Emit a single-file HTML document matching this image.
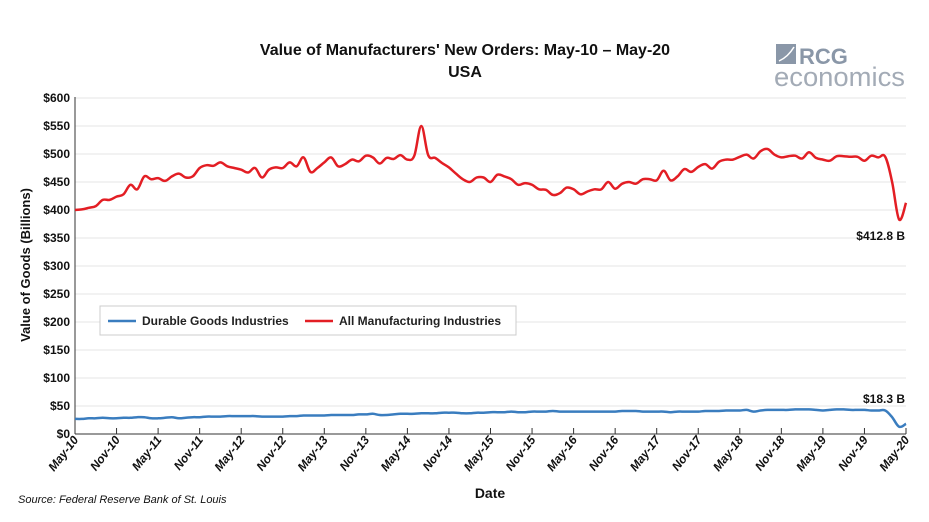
<!DOCTYPE html>
<html><head><meta charset="utf-8">
<style>
html,body{margin:0;padding:0;background:#fff;}
body{width:929px;height:517px;overflow:hidden;font-family:"Liberation Sans",sans-serif;}
svg text{font-family:"Liberation Sans",sans-serif;}
</style></head>
<body>
<svg id="chart" width="929" height="517" xmlns="http://www.w3.org/2000/svg">
<text x="465" y="55" text-anchor="middle" font-size="16" font-weight="bold" fill="#111">Value of Manufacturers' New Orders: May-10 – May-20</text>
<text x="465" y="77" text-anchor="middle" font-size="16" font-weight="bold" fill="#111">USA</text>
<g>
<rect x="776" y="44" width="20" height="20" fill="#8a97a8"/>
<path d="M779 61 Q788 57 794 47" stroke="#fff" stroke-width="1.5" fill="none"/>
<text x="799" y="64" font-size="22" font-weight="bold" fill="#8a97a8">RCG</text>
<text x="774" y="86" font-size="27" fill="#a3abb6" textLength="131" lengthAdjust="spacingAndGlyphs">economics</text>
</g>
<g id="grid"></g>
<g id="axes"></g>
<g id="series"></g>
<text transform="translate(30,265) rotate(-90)" text-anchor="middle" font-size="13" font-weight="bold" fill="#111">Value of Goods (Billions)</text>
<text x="490" y="498" text-anchor="middle" font-size="14" font-weight="bold" fill="#111">Date</text>
<text x="18" y="503" font-size="11" font-style="italic" fill="#111">Source: Federal Reserve Bank of St. Louis</text>
<g>
<rect x="100" y="306" width="416" height="29" fill="#fff" stroke="#ccc"/>
<line x1="108" y1="321" x2="136" y2="321" stroke="#3a7dbf" stroke-width="2.5"/>
<text x="142" y="325" font-size="12" font-weight="bold" fill="#222">Durable Goods Industries</text>
<line x1="305" y1="321" x2="333" y2="321" stroke="#e31e24" stroke-width="2.5"/>
<text x="339" y="325" font-size="12" font-weight="bold" fill="#222">All Manufacturing Industries</text>
</g>
<text x="905" y="240" text-anchor="end" font-size="12" font-weight="bold" fill="#111">$412.8 B</text>
<text x="905" y="403" text-anchor="end" font-size="12" font-weight="bold" fill="#111">$18.3 B</text>
</svg>
<script>
const yTicks=[0,50,100,150,200,250,300,350,400,450,500,550,600];
const xLabels=["May-10","Nov-10","May-11","Nov-11","May-12","Nov-12","May-13","Nov-13","May-14","Nov-14","May-15","Nov-15","May-16","Nov-16","May-17","Nov-17","May-18","Nov-18","May-19","Nov-19","May-20"];
const allMfg=[400,401,404,407,418,418,424,428,445,437,460,455,457,452,460,465,458,460,475,480,479,485,478,475,472,467,475,458,472,476,475,485,478,494,468,475,485,494,478,482,490,487,497,494,483,493,491,498,490,497,550,498,493,484,476,465,455,450,458,458,450,463,460,455,445,448,445,437,436,427,430,440,437,428,433,437,437,450,438,447,450,447,455,455,453,470,453,460,473,468,477,482,474,486,490,490,495,499,492,505,509,499,494,496,497,492,503,493,490,488,496,496,495,495,488,497,494,495,450,383,412.8];
const durable=[27,27,28,28,29,28,28,29,29,30,30,28,28,29,30,28,29,30,30,31,31,31,32,32,32,32,32,31,31,31,31,32,32,33,33,33,33,34,34,34,34,35,35,36,34,34,35,36,36,36,37,37,37,38,38,38,37,37,38,38,39,39,39,40,39,39,40,40,40,41,40,40,40,40,40,40,40,40,40,41,41,41,40,40,40,40,39,40,40,40,40,41,41,41,42,42,42,43,40,42,43,43,43,43,44,44,44,43,42,43,44,44,43,43,43,42,42,42,30,13,18.3];
const X0=75,X1=906,Y0=434,YMAX=600,PH=336;
const xScale=i=>X0+(X1-X0)*i/120;
const yScale=v=>Y0-v/YMAX*PH;
const NS="http://www.w3.org/2000/svg";
const mk=(t,a,p)=>{const e=document.createElementNS(NS,t);for(const k in a)e.setAttribute(k,a[k]);p.appendChild(e);return e;};
const grid=document.getElementById('grid'),axes=document.getElementById('axes'),series=document.getElementById('series');
yTicks.forEach(v=>{
  if(v>0){const l=mk('line',{x1:X0,x2:X1,y1:yScale(v),y2:yScale(v),stroke:'#e6e6e6','stroke-width':1},grid);
  
  }
  const t=mk('text',{x:X0-5,y:yScale(v)+4,'text-anchor':'end','font-size':12,'font-weight':'bold',fill:'#111'},axes);
  t.textContent='$'+v;
  
  
});
const ya=mk('line',{x1:X0,x2:X0,y1:yScale(600)-1,y2:Y0,stroke:'#333','stroke-width':1},axes);


const xa=mk('line',{x1:X0,x2:X1,y1:Y0,y2:Y0,stroke:'#333','stroke-width':1},axes);


xLabels.forEach((s,k)=>{
  const x=xScale(k*6);
  mk('line',{x1:x,x2:x,y1:Y0,y2:Y0-6,stroke:'#333'},axes);
  const t=mk('text',{transform:`translate(${x+4},${Y0+6}) rotate(-52)`,'text-anchor':'end','font-size':12,'font-weight':'bold','font-style':'italic',fill:'#111'},axes);
  t.textContent=s;
  
  
});
function line(arr,color,name){
  const pts=arr.map((v,i)=>[xScale(i),yScale(v)]);
  let d='M'+pts[0][0].toFixed(1)+' '+pts[0][1].toFixed(1);
  for(let i=0;i<pts.length-1;i++){
    const p0=pts[Math.max(0,i-1)],p1=pts[i],p2=pts[i+1],p3=pts[Math.min(pts.length-1,i+2)];
    const t=0.18;
    const c1=[p1[0]+(p2[0]-p0[0])*t,p1[1]+(p2[1]-p0[1])*t];
    const c2=[p2[0]-(p3[0]-p1[0])*t,p2[1]-(p3[1]-p1[1])*t];
    d+=` C${c1[0].toFixed(1)} ${c1[1].toFixed(1)} ${c2[0].toFixed(1)} ${c2[1].toFixed(1)} ${p2[0].toFixed(1)} ${p2[1].toFixed(1)}`;
  }
  const p=mk('path',{d:d,fill:'none',stroke:color,'stroke-width':2.5,'stroke-linejoin':'round'},series);
  
  
}
line(durable,'#3a7dbf','line-durable-goods');
line(allMfg,'#e31e24','line-all-manufacturing');
</script>
</body></html>
